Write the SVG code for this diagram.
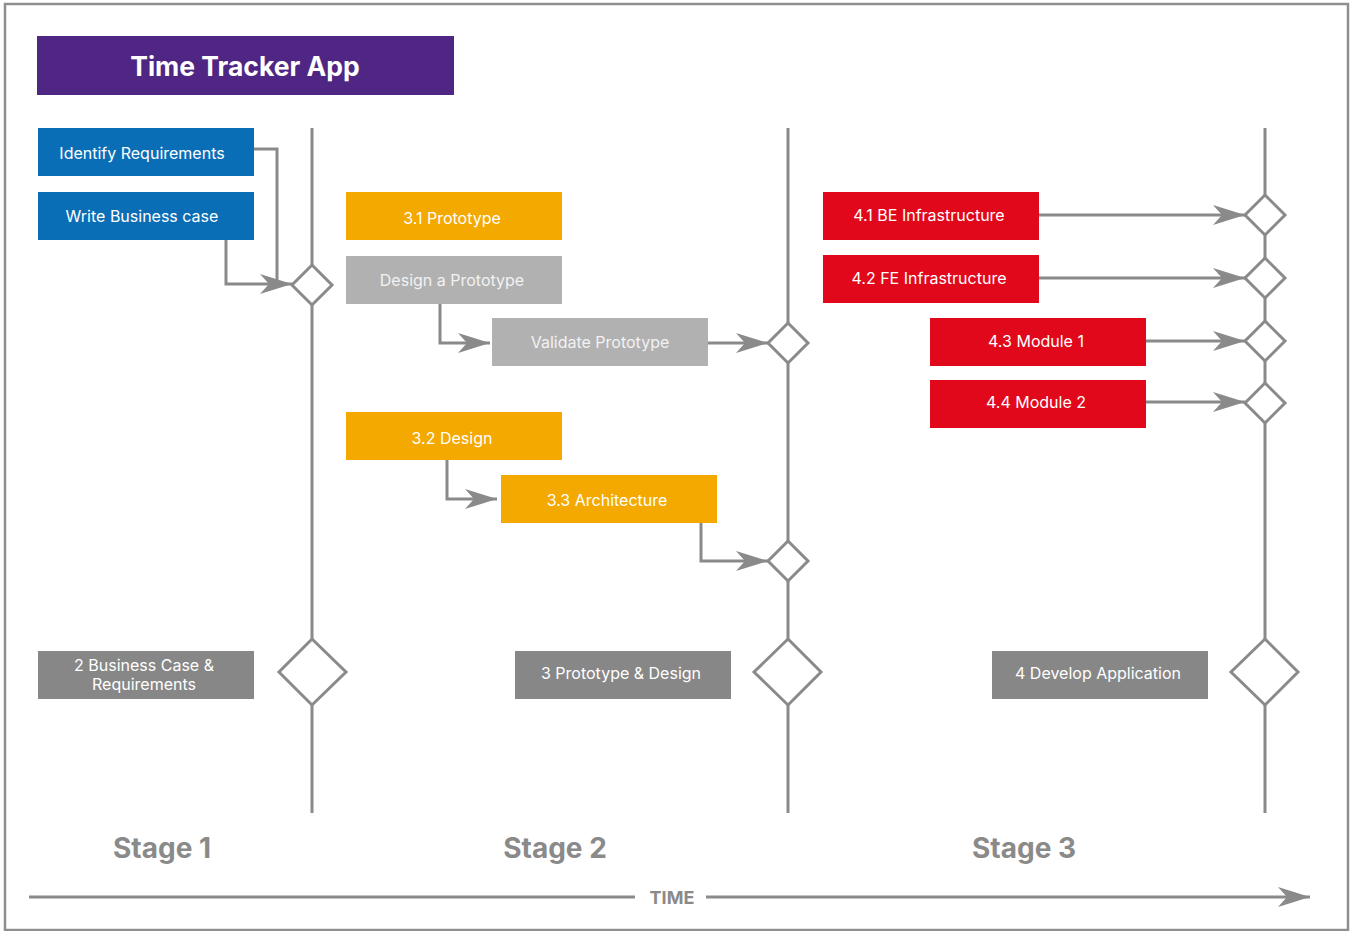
<svg xmlns="http://www.w3.org/2000/svg" width="1352" height="931" viewBox="0 0 1352 931">
  <style>
    .lbl { font-family: Inter, "Noto Sans", "Liberation Sans", sans-serif; font-size: 16px; fill: #ffffff; text-anchor: middle; dominant-baseline: central; }
    .lbl-lt { fill: #f2f2f2; }
    .blue { fill: #0a6eb6; }
    .orange { fill: #f4a900; }
    .lgray { fill: #b1b1b1; }
    .red { fill: #e1081b; }
    .dgray { fill: #878787; }
    .axis { stroke: #8a8a8a; stroke-width: 3; fill: none; }
    .conn { stroke: #8a8a8a; stroke-width: 3; fill: none; }
    .dia { fill: #ffffff; stroke: #8a8a8a; stroke-width: 3; }
    .stage { font-family: Inter, "Noto Sans", "Liberation Sans", sans-serif; font-size: 28px; font-weight: 700; fill: #8a8a8a; text-anchor: middle; }
  </style>
  <defs>
    <marker id="dart" markerUnits="userSpaceOnUse" viewBox="0 0 32 20" refX="32" refY="10" markerWidth="32" markerHeight="20" orient="auto">
      <path d="M0,0 L32,10 L0,20 L9,10 Z" fill="#8a8a8a"/>
    </marker>
  </defs>

  <!-- frame -->
  <rect x="5" y="4" width="1343" height="926" fill="#ffffff" stroke="#8f8f8f" stroke-width="2.5"/>

  <!-- title -->
  <g id="title">
    <rect x="37" y="36" width="417" height="59" fill="#4f2683"/>
    <text x="245" y="66" font-family="Inter, 'Noto Sans', 'Liberation Sans', sans-serif" font-size="26.5" font-weight="700" fill="#ffffff" text-anchor="middle" dominant-baseline="central">Time Tracker App</text>
  </g>

  <!-- stage swimlane lines -->
  <g id="lanes">
    <line class="axis" x1="312" y1="128" x2="312" y2="813"/>
    <line class="axis" x1="788" y1="128" x2="788" y2="813"/>
    <line class="axis" x1="1265" y1="128" x2="1265" y2="813"/>
  </g>

  <!-- connectors -->
  <g id="connectors">
    <polyline class="conn" points="254,149 277,149 277,284"/>
    <polyline class="conn" points="226,240 226,284 292,284" marker-end="url(#dart)"/>
    <polyline class="conn" points="440,303 440,343 490,343" marker-end="url(#dart)"/>
    <polyline class="conn" points="708,343 768,343" marker-end="url(#dart)"/>
    <polyline class="conn" points="447,460 447,499 497,499" marker-end="url(#dart)"/>
    <polyline class="conn" points="701,522 701,561 768,561" marker-end="url(#dart)"/>
    <polyline class="conn" points="1039,215 1245,215" marker-end="url(#dart)"/>
    <polyline class="conn" points="1039,278 1245,278" marker-end="url(#dart)"/>
    <polyline class="conn" points="1146,341 1245,341" marker-end="url(#dart)"/>
    <polyline class="conn" points="1146,402 1245,402" marker-end="url(#dart)"/>
  </g>

  <!-- milestone diamonds -->
  <g id="m1"><polygon class="dia" points="312,265 332,285 312,305 292,285"/></g>
  <g id="m2"><polygon class="dia" points="788,323 808,343 788,363 768,343"/></g>
  <g id="m3"><polygon class="dia" points="788,541 808,561 788,581 768,561"/></g>
  <g id="m4"><polygon class="dia" points="1265,195 1285,215 1265,235 1245,215"/></g>
  <g id="m5"><polygon class="dia" points="1265,258 1285,278 1265,298 1245,278"/></g>
  <g id="m6"><polygon class="dia" points="1265,321 1285,341 1265,361 1245,341"/></g>
  <g id="m7"><polygon class="dia" points="1265,383 1285,403 1265,423 1245,403"/></g>
  <g id="g1"><polygon class="dia" points="312,639 346,672 312,705 279,672"/></g>
  <g id="g2"><polygon class="dia" points="788,639 821,672 788,705 754,672"/></g>
  <g id="g3"><polygon class="dia" points="1265,639 1298,672 1265,705 1231,672"/></g>

  <!-- stage 1 tasks -->
  <g id="identify-req">
    <rect class="blue" x="38" y="128" width="216" height="48"/>
    <text class="lbl" x="142" y="153">Identify Requirements</text>
  </g>
  <g id="write-bc">
    <rect class="blue" x="38" y="192" width="216" height="48"/>
    <text class="lbl" x="142" y="216">Write Business case</text>
  </g>

  <!-- stage 2 tasks -->
  <g id="prototype">
    <rect class="orange" x="346" y="192" width="216" height="48"/>
    <text class="lbl" x="452" y="218">3.1 Prototype</text>
  </g>
  <g id="design-proto">
    <rect class="lgray" x="346" y="256" width="216" height="48"/>
    <text class="lbl lbl-lt" x="452" y="280">Design a Prototype</text>
  </g>
  <g id="validate-proto">
    <rect class="lgray" x="492" y="318" width="216" height="48"/>
    <text class="lbl lbl-lt" x="600" y="342">Validate Prototype</text>
  </g>
  <g id="design">
    <rect class="orange" x="346" y="412" width="216" height="48"/>
    <text class="lbl" x="452" y="438">3.2 Design</text>
  </g>
  <g id="architecture">
    <rect class="orange" x="501" y="475" width="216" height="48"/>
    <text class="lbl" x="607" y="500">3.3 Architecture</text>
  </g>

  <!-- stage 3 tasks -->
  <g id="be-infra">
    <rect class="red" x="823" y="192" width="216" height="48"/>
    <text class="lbl" x="929" y="215">4.1 BE Infrastructure</text>
  </g>
  <g id="fe-infra">
    <rect class="red" x="823" y="255" width="216" height="48"/>
    <text class="lbl" x="929" y="278">4.2 FE Infrastructure</text>
  </g>
  <g id="module-1">
    <rect class="red" x="930" y="318" width="216" height="48"/>
    <text class="lbl" x="1036" y="341">4.3 Module 1</text>
  </g>
  <g id="module-2">
    <rect class="red" x="930" y="380" width="216" height="48"/>
    <text class="lbl" x="1036" y="402">4.4 Module 2</text>
  </g>

  <!-- stage summaries -->
  <g id="sum-1">
    <rect class="dgray" x="38" y="651" width="216" height="48"/>
    <text class="lbl" x="144" y="665">2 Business Case &amp;</text>
    <text class="lbl" x="144" y="684">Requirements</text>
  </g>
  <g id="sum-2">
    <rect class="dgray" x="515" y="651" width="216" height="48"/>
    <text class="lbl" x="621" y="673">3 Prototype &amp; Design</text>
  </g>
  <g id="sum-3">
    <rect class="dgray" x="992" y="651" width="216" height="48"/>
    <text class="lbl" x="1098" y="673">4 Develop Application</text>
  </g>

  <!-- stage captions -->
  <g id="captions">
    <text class="stage" x="162" y="858">Stage 1</text>
    <text class="stage" x="555" y="858">Stage 2</text>
    <text class="stage" x="1024" y="858">Stage 3</text>
  </g>

  <!-- time axis -->
  <g id="time-axis">
    <line class="axis" x1="29" y1="897" x2="635" y2="897"/>
    <line class="axis" x1="706" y1="897" x2="1310" y2="897" marker-end="url(#dart)"/>
    <text x="672" y="897" font-family="Inter, 'Noto Sans', 'Liberation Sans', sans-serif" font-size="18" font-weight="700" fill="#8a8a8a" text-anchor="middle" dominant-baseline="central">TIME</text>
  </g>
</svg>
